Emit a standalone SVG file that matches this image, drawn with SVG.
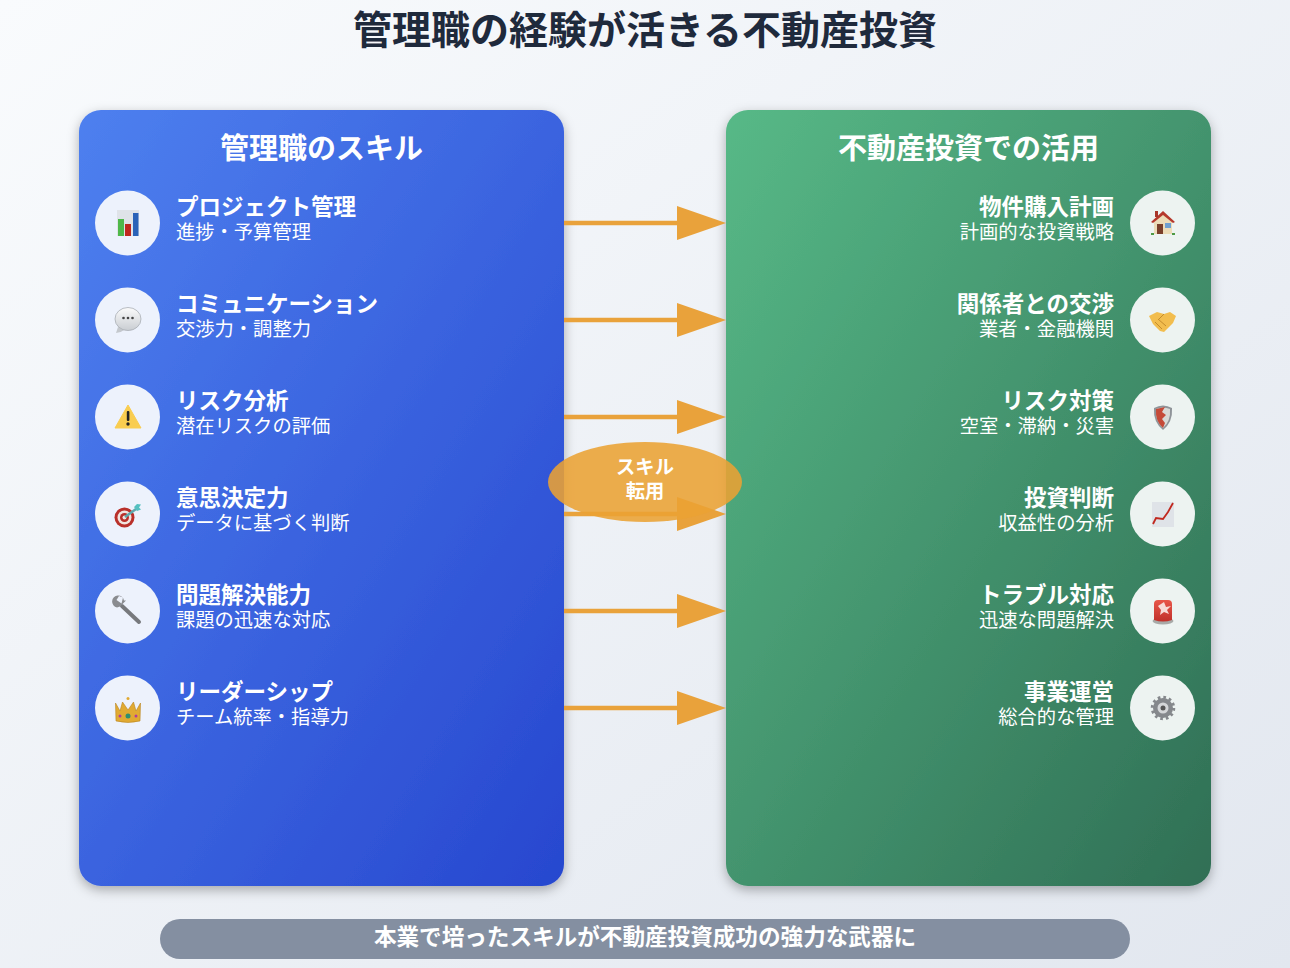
<svg xmlns="http://www.w3.org/2000/svg" width="1290" height="968" viewBox="0 0 1290 968">
<defs>
<linearGradient id="bg" x1="0" y1="0" x2="1" y2="1"><stop offset="0" stop-color="#f9fbfd"/><stop offset="1" stop-color="#e2e7ef"/></linearGradient>
<linearGradient id="blue" x1="0" y1="0" x2="1" y2="1"><stop offset="0" stop-color="#4e80ef"/><stop offset="1" stop-color="#2747cf"/></linearGradient>
<linearGradient id="green" x1="0" y1="0" x2="1" y2="1"><stop offset="0" stop-color="#57b987"/><stop offset="1" stop-color="#306f55"/></linearGradient>
<linearGradient id="bubble" x1="0" y1="0" x2="0" y2="1"><stop offset="0" stop-color="#fbfbfb"/><stop offset="1" stop-color="#c9cdd2"/></linearGradient>
<linearGradient id="siren" x1="0" y1="0" x2="0" y2="1"><stop offset="0" stop-color="#e8574a"/><stop offset="1" stop-color="#c0302a"/></linearGradient>
<filter id="sh" x="-10%" y="-10%" width="120%" height="120%"><feDropShadow dx="0" dy="4" stdDeviation="6" flood-color="#000" flood-opacity="0.3"/></filter>
<g id="arrow"><line x1="564" y1="0" x2="680" y2="0" stroke="#e9a23b" stroke-width="4.5"/><polygon points="677,-17 726,0 677,17" fill="#e9a23b"/></g>
</defs>
<style>
text{font-family:"Noto Sans CJK JP","Noto Sans",sans-serif;fill:#fff}
.title{font-size:39px;font-weight:700;fill:#1f2a3c;text-anchor:middle}
.head{font-size:29px;font-weight:700;text-anchor:middle}
.it{font-size:22.5px;font-weight:700}
.sb{font-size:19.3px;font-weight:400}
.r{text-anchor:end}
.lb{font-size:19.3px;font-weight:700;text-anchor:middle}
.ft{font-size:22.6px;font-weight:700;text-anchor:middle}
.cl{fill:#edf2fc}
.cr{fill:#edf3f1}
</style>
<rect width="1290" height="968" fill="url(#bg)"/>
<text id="title" class="title" x="645" y="44">管理職の経験が活きる不動産投資</text>

<g id="panel-left"><rect x="79" y="110" width="485" height="776" rx="22" fill="url(#blue)" filter="url(#sh)"/><text class="head" x="321.500" y="158.500">管理職のスキル</text></g>
<g id="panel-right"><rect x="726" y="110" width="485" height="776" rx="22" fill="url(#green)" filter="url(#sh)"/><text class="head" x="968.500" y="158.500">不動産投資での活用</text></g>

<g id="connectors">
<use href="#arrow" y="223"/><use href="#arrow" y="320"/><use href="#arrow" y="417"/><use href="#arrow" y="514"/><use href="#arrow" y="611"/><use href="#arrow" y="708"/>
</g>

<g id="skill-1"><circle class="cl" cx="127.500" cy="223" r="32.500"/>
<rect x="117" y="210" width="22" height="26" fill="#dfe3e8"/><rect x="118" y="219" width="6" height="17" fill="#4fb84a"/><rect x="125" y="224" width="6" height="12" fill="#c0281e"/><rect x="133" y="213" width="5.500" height="23" fill="#2a62b8"/>
<text class="it" x="176" y="215">プロジェクト管理</text><text class="sb" x="176" y="239">進捗・予算管理</text></g>

<g id="skill-2"><circle class="cl" cx="127.500" cy="320" r="32.500"/>
<path d="M118 327L116 333Q122 332 126 329Z" fill="#c4c8cd"/><ellipse cx="128" cy="319" rx="13" ry="11.500" fill="url(#bubble)" stroke="#a9aeb5" stroke-width=".8"/><circle cx="123.500" cy="318" r="1.300" fill="#444"/><circle cx="128" cy="318" r="1.300" fill="#444"/><circle cx="132.500" cy="318" r="1.300" fill="#444"/>
<text class="it" x="176" y="312">コミュニケーション</text><text class="sb" x="176" y="336">交渉力・調整力</text></g>

<g id="skill-3"><circle class="cl" cx="127.500" cy="417" r="32.500"/>
<path d="M128 405L141 428H115Z" fill="#f9cd50" stroke="#f9cd50" stroke-linejoin="round"/><rect x="126.800" y="411" width="2.600" height="10" rx="1" fill="#222"/><circle cx="128" cy="424" r="1.700" fill="#222"/>
<text class="it" x="176" y="409">リスク分析</text><text class="sb" x="176" y="433">潜在リスクの評価</text></g>

<g id="skill-4"><circle class="cl" cx="127.500" cy="514" r="32.500"/>
<circle cx="124.500" cy="517.500" r="10" fill="#b9302a"/><circle cx="124.500" cy="517.500" r="7" fill="#f1e4de"/><circle cx="124.500" cy="517.500" r="4.500" fill="#b9302a"/><circle cx="124.500" cy="517.500" r="2" fill="#f1e4de"/>
<path d="M125 517L136 509" stroke="#5fa9ad" stroke-width="2.500"/><path d="M134 507l3-3 4 .5-2 3 2 2-4 1.500z" fill="#54c0c0"/>
<text class="it" x="176" y="506">意思決定力</text><text class="sb" x="176" y="530">データに基づく判断</text></g>

<g id="skill-5"><circle class="cl" cx="127.500" cy="611" r="32.500"/>
<path d="M122 606L139 622" stroke="#77797d" stroke-width="4" stroke-linecap="round"/><path d="M124 600.500a6 6 0 1 0-7 7l3-1 6-6z" fill="#8a8c90"/><path d="M116.500 600l5 3.500 1.500-6L119 596z" fill="#edf2fc"/>
<text class="it" x="176" y="603">問題解決能力</text><text class="sb" x="176" y="627">課題の迅速な対応</text></g>

<g id="skill-6"><circle class="cl" cx="127.500" cy="708" r="32.500"/>
<path d="M115.500 703L120 711L122.500 702L128 710L133.500 702L136 711L140.500 703L140 721Q128 724 116 721Z" fill="#e1aa32" stroke="#b98520" stroke-width=".6"/><circle cx="128" cy="698.500" r="1.500" fill="#e1aa32"/><circle cx="128" cy="716" r="2.500" fill="#2f8f6f"/><circle cx="120" cy="716" r="1.500" fill="#b13aa0"/><circle cx="136" cy="716" r="1.500" fill="#b13aa0"/>
<text class="it" x="176" y="700">リーダーシップ</text><text class="sb" x="176" y="724">チーム統率・指導力</text></g>

<g id="use-1"><circle class="cr" cx="1162.500" cy="223" r="32.500"/>
<path d="M1154 220L1163 213L1172 220V234H1154Z" fill="#ecdcb8"/><path d="M1151 222L1163 211L1175 222L1173 223L1163 215L1153 223Z" fill="#b5382c"/><rect x="1155" y="211" width="3" height="6" fill="#a8362a"/><rect x="1157" y="224" width="6" height="10" fill="#7a3f2a"/><rect x="1165" y="223" width="6" height="5" fill="#6ea0d0"/><rect x="1151" y="233" width="3" height="2" fill="#4e9a45"/><rect x="1172" y="233" width="3" height="2" fill="#4e9a45"/>
<text class="it r" x="1114" y="215">物件購入計画</text><text class="sb r" x="1114" y="239">計画的な投資戦略</text></g>

<g id="use-2"><circle class="cr" cx="1162.500" cy="320" r="32.500"/>
<path d="M1149 316L1157 312L1164 314L1170 312L1176 316L1173 323L1164 332L1160 331L1153 324Z" fill="#f2bd4e"/><path d="M1158 319L1166 326M1155 322L1162 329M1164 314L1159 319" stroke="#c48c2c" fill="none"/>
<text class="it r" x="1114" y="312">関係者との交渉</text><text class="sb r" x="1114" y="336">業者・金融機関</text></g>

<g id="use-3"><circle class="cr" cx="1162.500" cy="417" r="32.500"/>
<path d="M1154 408Q1163 403 1172 408Q1173 422 1163 430Q1153 422 1154 408Z" fill="#8f9499"/><path d="M1156 409Q1163 406 1170 409Q1171 421 1163 428Q1155 421 1156 409Z" fill="#d8d9d6"/><path d="M1156 409L1165 407L1162 412L1166 415L1162 419L1165 423L1163 428Q1155 421 1156 409Z" fill="#c54a38"/>
<text class="it r" x="1114" y="409">リスク対策</text><text class="sb r" x="1114" y="433">空室・滞納・災害</text></g>

<g id="use-4"><circle class="cr" cx="1162.500" cy="514" r="32.500"/>
<rect x="1152" y="502" width="22" height="25" fill="#dfe3e8"/><path d="M1153 524L1156 518L1163 519L1168 512L1173 503" stroke="#c1281e" stroke-width="1.800" fill="none"/>
<text class="it r" x="1114" y="506">投資判断</text><text class="sb r" x="1114" y="530">収益性の分析</text></g>

<g id="use-5"><circle class="cr" cx="1162.500" cy="611" r="32.500"/>
<ellipse cx="1163" cy="621" rx="10.500" ry="3.500" fill="#a8aaa8"/><path d="M1154 620V604Q1154 600 1158 600H1168Q1172 600 1172 604V620Q1163 623 1154 620Z" fill="url(#siren)"/><path d="M1164 602L1166 607L1171 606L1167 610L1169 614L1164 612L1160 615L1161 610L1158 606Z" fill="#f7dcd8"/>
<text class="it r" x="1114" y="603">トラブル対応</text><text class="sb r" x="1114" y="627">迅速な問題解決</text></g>

<g id="use-6"><circle class="cr" cx="1162.500" cy="708" r="32.500"/>
<circle cx="1163" cy="708" r="10" fill="#85888c"/><circle cx="1163" cy="708" r="10.500" fill="none" stroke="#85888c" stroke-width="3.500" stroke-dasharray="2.600 2.900"/><circle cx="1163" cy="708" r="5.500" fill="#d4d6d8"/><circle cx="1163" cy="708" r="2.500" fill="#555"/>
<text class="it r" x="1114" y="700">事業運営</text><text class="sb r" x="1114" y="724">総合的な管理</text></g>

<g id="transfer"><ellipse cx="645" cy="482" rx="97" ry="40" fill="#eba233" fill-opacity="0.88"/><text class="lb" x="645" y="474">スキル</text><text class="lb" x="645" y="498">転用</text></g>

<g id="footer"><rect x="160" y="919" width="970" height="40" rx="20" fill="#848fa1"/><text class="ft" x="645" y="945">本業で培ったスキルが不動産投資成功の強力な武器に</text></g>
</svg>
